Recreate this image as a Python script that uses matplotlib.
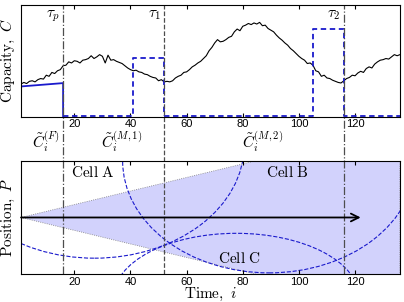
import matplotlib
matplotlib.use("Agg")
import matplotlib.pyplot as plt
from matplotlib.patches import Ellipse
import matplotlib.transforms as mtransforms

plt.rcParams["mathtext.fontset"] = "cm"
plt.rcParams["font.family"] = ["Liberation Sans", "DejaVu Sans"]

# capacity trace, i = 1..136
time_i = list(range(1, 137))
capacity = [
    2.90, 3.05, 2.95, 3.15, 3.20, 3.10, 3.30, 3.40, 3.35, 3.70,
    3.60, 3.95, 3.85, 4.10, 4.20, 4.55, 4.60, 4.90, 4.80, 5.00,
    4.95, 4.80, 5.05, 5.10, 5.20, 5.45, 5.20, 5.35, 5.55, 5.40,
    4.80, 5.50, 5.05, 5.10, 4.95, 4.85, 4.75, 4.55, 4.35, 4.20,
    4.10, 4.15, 4.00, 3.95, 3.80, 3.75, 3.60, 3.50, 3.45, 3.20,
    3.30, 3.10, 3.15, 3.10, 3.20, 3.45, 3.60, 3.70, 3.95, 4.00,
    4.20, 4.45, 4.60, 4.80, 4.95, 5.20, 5.45, 5.90, 6.20, 6.60,
    6.90, 6.70, 6.75, 6.90, 7.10, 7.20, 7.60, 7.85, 7.70, 8.10,
    8.20, 8.35, 8.25, 8.40, 8.30, 8.45, 8.15, 8.20, 7.90, 7.75,
    7.60, 7.30, 7.05, 6.85, 6.60, 6.40, 6.10, 5.90, 5.65, 5.40,
    5.20, 5.05, 4.75, 4.80, 4.60, 4.10, 4.00, 3.60, 3.70, 3.45,
    3.40, 3.25, 3.15, 3.05, 3.00, 3.20, 3.40, 3.50, 3.70, 3.65,
    3.90, 4.05, 3.95, 4.30, 4.45, 4.35, 4.70, 4.90, 5.05, 5.10,
    5.20, 5.15, 5.35, 5.55, 5.45, 5.55,
]

# predicted capacities
cf_x = [1, 16, 16]
cf_y = [2.69, 2.99, 0]
cm1_x = [16, 41, 41, 52, 52]
cm1_y = [0, 0, 5.23, 5.23, 0]
cm2_x = [52, 105, 105, 116, 116, 136]
cm2_y = [0, 0, 7.85, 7.85, 0, 0]

tau_x = [16, 52, 116]
tau_labels = [r"$\tau_p$", r"$\tau_1$", r"$\tau_2$"]
tau_styles = ["-.", "--", "-."]

pred_label_x = [9.8, 36.8, 87]
pred_labels = [r"$\tilde{C}_i^{(F)}$", r"$\tilde{C}_i^{(M,1)}$", r"$\tilde{C}_i^{(M,2)}$"]

# position panel
cone_x = [1, 136]
cone_half = [0, 1.62]
cell_names = ["Cell A", "Cell B", "Cell C"]
cell_label_x = [26.5, 95.9, 78.9]
cell_label_y = [0.79, 0.79, -0.72]
cell_cx = [27.2, 89.4, 77.7]
cell_cy = [1.28, 1.0, -1.41]
cell_w = [106.6, 104.4, 87.4]
cell_h = [4.0, 3.96, 2.26]

blue = "#1a1acc"

fig = plt.figure(figsize=(4.04, 3.02), dpi=100)
ax1 = fig.add_axes([0.052, 0.6136, 0.938, 0.3694])
ax2 = fig.add_axes([0.052, 0.0927, 0.938, 0.3743])

for ax in (ax1, ax2):
    ax.set_xlim(1, 136)
    ax.set_xticks([20, 40, 60, 80, 100, 120])
    ax.set_yticks([])
    ax.tick_params(axis="x", direction="in", top=True, length=3, labelsize=8, pad=2)

# top: capacity
ax1.set_ylim(-0.03, 10)
ax1.plot(time_i, capacity, color="black", lw=0.8)
ax1.plot(cf_x, cf_y, color=blue, lw=1.3)
ax1.plot(cm1_x, cm1_y, color=blue, lw=1.3, ls="--", dashes=(3, 2))
ax1.plot(cm2_x, cm2_y, color=blue, lw=1.3, ls="--", dashes=(3, 2))
ax1.set_ylabel(r"$\mathrm{Capacity,}\ C$", fontsize=11, labelpad=3)

for x, lab, ls in zip(tau_x, tau_labels, tau_styles):
    ax1.axvline(x, ymin=-1.41, ymax=1, color="0.3", lw=0.9, ls=ls, clip_on=False)
    ax1.text(x - 1.2, 9.7, lab, ha="right", va="top", fontsize=11)
    ax2.axvline(x, color="0.3", lw=0.9, ls=ls)

trans = mtransforms.blended_transform_factory(ax1.transData, ax1.transAxes)
for x, lab in zip(pred_label_x, pred_labels):
    ax1.text(x, -0.285, lab, ha="center", va="baseline", fontsize=11, transform=trans)

# bottom: position
ax2.set_ylim(-1, 1)
ax2.fill_between(cone_x, [-h for h in cone_half], cone_half,
                 facecolor="#d2d2fc", edgecolor="0.5", lw=0.6, ls=":")
for cx, cy, w, h in zip(cell_cx, cell_cy, cell_w, cell_h):
    ax2.add_patch(Ellipse((cx, cy), w, h, fill=False, edgecolor=blue,
                          lw=0.8, ls="--"))
for name, x, y in zip(cell_names, cell_label_x, cell_label_y):
    ax2.text(x, y, r"$\mathrm{" + name.replace(" ", r"\ ") + "}$",
             ha="center", va="center", fontsize=11)
ax2.annotate("", xy=(122, 0), xytext=(1, 0),
             arrowprops=dict(arrowstyle="->", color="black", lw=1.3,
                             mutation_scale=14, shrinkA=0, shrinkB=0))
ax2.set_ylabel(r"$\mathrm{Position,}\ P$", fontsize=11, labelpad=3)
fig.text(0.522, 0.014, r"$\mathrm{Time,}\ i$", ha="center", va="baseline", fontsize=11)

fig.savefig("out.png", dpi=100)
